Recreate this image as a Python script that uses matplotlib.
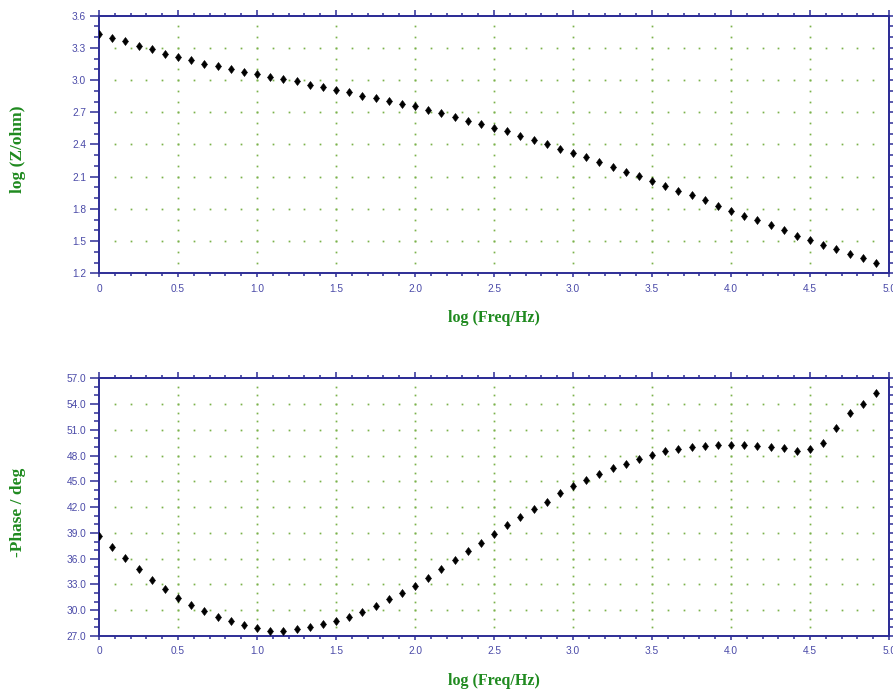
import numpy as np
import matplotlib
matplotlib.use("Agg")
import matplotlib.pyplot as plt
from matplotlib.markers import MarkerStyle
from matplotlib.transforms import Affine2D
from matplotlib.ticker import MultipleLocator, FixedLocator

plt.rcParams["font.family"] = ["Liberation Sans", "DejaVu Sans"]

SPINE_COLOR = "#2e2e96"
TICKLABEL_COLOR = "#4a4aa8"
LABEL_COLOR = "#1f8a1f"
GRID_COLOR = "#7ab24a"

# log10 of frequency, 12 points per decade
log_freq = [
    0.000, 0.083, 0.167, 0.250, 0.333, 0.417, 0.500, 0.583, 0.667, 0.750, 0.833, 0.917,
    1.000, 1.083, 1.167, 1.250, 1.333, 1.417, 1.500, 1.583, 1.667, 1.750, 1.833, 1.917,
    2.000, 2.083, 2.167, 2.250, 2.333, 2.417, 2.500, 2.583, 2.667, 2.750, 2.833, 2.917,
    3.000, 3.083, 3.167, 3.250, 3.333, 3.417, 3.500, 3.583, 3.667, 3.750, 3.833, 3.917,
    4.000, 4.083, 4.167, 4.250, 4.333, 4.417, 4.500, 4.583, 4.667, 4.750, 4.833, 4.917,
]

log_z = [
    3.430, 3.395, 3.364, 3.321, 3.287, 3.246, 3.218, 3.187, 3.153, 3.131, 3.103, 3.075,
    3.054, 3.032, 3.010, 2.987, 2.954, 2.933, 2.908, 2.886, 2.855, 2.830, 2.808, 2.777,
    2.756, 2.721, 2.690, 2.653, 2.622, 2.588, 2.557, 2.523, 2.476, 2.445, 2.402, 2.361,
    2.324, 2.280, 2.235, 2.193, 2.147, 2.103, 2.060, 2.016, 1.970, 1.926, 1.883, 1.827,
    1.784, 1.737, 1.693, 1.650, 1.600, 1.551, 1.507, 1.461, 1.429, 1.383, 1.339, 1.293,
]

neg_phase = [
    38.68, 37.32, 36.04, 34.76, 33.52, 32.43, 31.46, 30.61, 29.91, 29.25, 28.71, 28.28,
    27.97, 27.62, 27.62, 27.78, 28.01, 28.40, 28.79, 29.25, 29.83, 30.49, 31.27, 32.01,
    32.82, 33.79, 34.84, 35.81, 36.86, 37.83, 38.91, 39.88, 40.89, 41.75, 42.64, 43.61,
    44.46, 45.16, 45.86, 46.52, 47.06, 47.64, 48.03, 48.50, 48.73, 49.00, 49.12, 49.27,
    49.27, 49.27, 49.16, 49.00, 48.85, 48.58, 48.73, 49.51, 51.21, 52.92, 53.97, 55.25,
]

x_ticks = [0.0, 0.5, 1.0, 1.5, 2.0, 2.5, 3.0, 3.5, 4.0, 4.5, 5.0]
x_ticklabels = ["0", "0.5", "1.0", "1.5", "2.0", "2.5", "3.0", "3.5", "4.0", "4.5", "5.0"]

PANELS = (
    {"y": log_z, "ylabel": "log (Z/ohm)", "ylim": (1.2, 3.6), "major": 0.3, "minor": 0.1,
     "fmt": "{:.1f}", "pos": [0.1109, 0.6068, 0.8847, 0.3706]},
    {"y": neg_phase, "ylabel": "-Phase / deg", "ylim": (27.0, 57.0), "major": 3.0, "minor": 1.0,
     "fmt": "{:.1f}", "pos": [0.1109, 0.0849, 0.8847, 0.3708]},
)

diamond = MarkerStyle("D", transform=Affine2D().scale(0.78, 1.0))

fig = plt.figure(figsize=(8.93, 6.95), dpi=100)


def dotted_grid(ax, x_major, x_minor, y_major, y_minor):
    # the instrument software draws its grid as single dots at the minor tick spacing
    xs, ys = [], []
    for xm in x_major:
        for ym in y_minor:
            xs.append(xm)
            ys.append(ym)
    for ym in y_major:
        for xm in x_minor:
            xs.append(xm)
            ys.append(ym)
    ax.plot(xs, ys, ls="none", marker="s", ms=1.25, mew=0, color=GRID_COLOR, zorder=1)


for panel in PANELS:
    ax = fig.add_axes(panel["pos"])
    ax.plot(log_freq, panel["y"], ls="none", marker=diamond, ms=4.4, color="black",
            mec="black", mew=0.4, zorder=3)

    lo, hi = panel["ylim"]
    ax.set_xlim(0, 5.0)
    ax.set_ylim(lo, hi)

    y_major = np.round(np.arange(lo, hi + 1e-9, panel["major"]), 3)
    y_minor = np.round(np.arange(lo, hi + 1e-9, panel["minor"]), 3)
    x_minor = np.round(np.arange(0, 5.0 + 1e-9, 0.1), 3)

    dotted_grid(ax,
                [v for v in x_ticks if 0 < v < 5.0],
                [v for v in x_minor if 0 < v < 5.0],
                [v for v in y_major if lo < v < hi],
                [v for v in y_minor if lo < v < hi])

    ax.set_xticks(x_ticks)
    ax.set_xticklabels(x_ticklabels)
    ax.xaxis.set_minor_locator(MultipleLocator(0.1))
    ax.set_yticks(y_major)
    ax.set_yticklabels([panel["fmt"].format(v) for v in y_major])
    ax.yaxis.set_minor_locator(FixedLocator(y_minor))

    for side in ("left", "bottom", "top", "right"):
        ax.spines[side].set_color(SPINE_COLOR)
        ax.spines[side].set_linewidth(1.4)

    ax.tick_params(axis="y", which="major", direction="out", length=6.3, width=1.1,
                   color=SPINE_COLOR, labelcolor=TICKLABEL_COLOR, labelsize=7.3, pad=3)
    ax.tick_params(axis="y", which="minor", direction="out", length=3.6, width=1.1,
                   color=SPINE_COLOR)
    ax.tick_params(axis="x", which="major", direction="out", length=3.0, width=1.1,
                   color=SPINE_COLOR, labelcolor=TICKLABEL_COLOR, labelsize=7.3, pad=4.5)
    ax.tick_params(axis="x", which="minor", direction="out", length=2.0, width=1.1,
                   color=SPINE_COLOR)

    # top and right ticks are shorter than the labelled ones
    top = ax.secondary_xaxis("top")
    top.set_xticks(x_ticks)
    top.xaxis.set_minor_locator(MultipleLocator(0.1))
    top.tick_params(which="major", direction="out", length=4.0, width=1.1,
                    color=SPINE_COLOR, labeltop=False)
    top.tick_params(which="minor", direction="out", length=2.4, width=1.1, color=SPINE_COLOR)
    top.spines["top"].set_color(SPINE_COLOR)
    top.spines["top"].set_linewidth(1.4)

    right = ax.secondary_yaxis("right")
    right.set_yticks(y_major)
    right.yaxis.set_minor_locator(FixedLocator(y_minor))
    right.tick_params(which="both", direction="out", length=2.7, width=1.1,
                      color=SPINE_COLOR, labelright=False)
    right.spines["right"].set_color(SPINE_COLOR)
    right.spines["right"].set_linewidth(1.4)

    ax.set_xlabel("log (Freq/Hz)", family="Liberation Serif", fontweight="bold",
                  fontsize=11.5, color=LABEL_COLOR, va="center")
    ax.xaxis.set_label_coords(0.5, -0.175)
    ax.set_ylabel(panel["ylabel"], family="Liberation Serif", fontweight="bold",
                  fontsize=12.5, color=LABEL_COLOR, va="center")
    ax.yaxis.set_label_coords(-0.103, 0.48)

fig.savefig("out.png", dpi=100, facecolor="white")
